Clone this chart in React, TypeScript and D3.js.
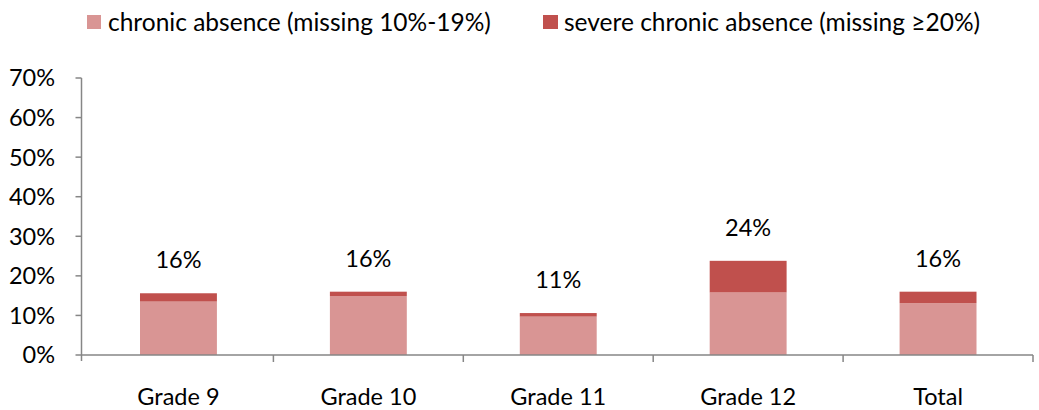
import React from "react";
import * as d3 from "d3";

const categories = ["Grade 9", "Grade 10", "Grade 11", "Grade 12", "Total"];
const chronic = [13.5, 14.9, 9.7, 15.8, 13.1];
const severe = [2.1, 1.1, 0.9, 8.0, 2.9];
const totalLabels = ["16%", "16%", "11%", "24%", "16%"];
const yTicks = [0, 10, 20, 30, 40, 50, 60, 70];
const seriesNames = ["chronic absence (missing 10%-19%)", "severe chronic absence (missing ≥20%)"];

const LIGHT = "#D99594";
const DARK = "#C0504D";
const AXIS = "#868686";
const FONT = "Lato, 'Open Sans', sans-serif";

export default function App() {
  const W = 1039, H = 410;
  const left = 81.5, right = 1033, top = 78, bottom = 355;
  const x = d3.scaleBand<string>().domain(categories).range([left + 2, right]).paddingInner(0).paddingOuter(0);
  const y = d3.scaleLinear().domain([0, 70]).range([bottom, top]);
  const bw = x.bandwidth() * 0.405;

  return (
    <svg width={W} height={H} style={{ position: "absolute", left: 0, top: 0 }} fontFamily={FONT}>
      <rect width={W} height={H} fill="#fff" />
      {/* legend */}
      <rect x={87} y={15} width={14} height={14} fill={LIGHT} />
      <text x={108} y={31} fontSize={24.5} fill="#000">{seriesNames[0]}</text>
      <rect x={543} y={15} width={15} height={14} fill={DARK} />
      <text x={564} y={31} fontSize={24.5} fill="#000">{seriesNames[1]}</text>

      {/* y axis */}
      <line x1={left} x2={left} y1={y(70)} y2={bottom + 6} stroke={AXIS} strokeWidth={1.5} />
      {yTicks.map((t) => (
        <g key={t}>
          <line x1={left - 6} x2={left} y1={y(t)} y2={y(t)} stroke={AXIS} strokeWidth={1.5} />
          <text x={55} y={y(t)} dy="0.36em" textAnchor="end" fontSize={23.5} fill="#000">{t}%</text>
        </g>
      ))}

      {/* bars */}
      {categories.map((c, i) => {
        const cx = (x(c) as number) + x.bandwidth() / 2;
        const tot = chronic[i] + severe[i];
        return (
          <g key={c}>
            <rect x={cx - bw / 2} y={y(chronic[i])} width={bw} height={y(0) - y(chronic[i])} fill={LIGHT} />
            <rect x={cx - bw / 2} y={y(tot)} width={bw} height={y(chronic[i]) - y(tot)} fill={DARK} />
            <text x={cx} y={y(tot) - 25} textAnchor="middle" fontSize={23.5} fill="#000">{totalLabels[i]}</text>
            <text x={cx} y={405} textAnchor="middle" fontSize={23.5} fill="#000">{c}</text>
          </g>
        );
      })}

      {/* x axis */}
      <line x1={left} x2={right} y1={bottom} y2={bottom} stroke={AXIS} strokeWidth={1.5} />
      {categories.slice(1).map((c) => (
        <line key={c} x1={x(c) as number} x2={x(c) as number} y1={bottom} y2={bottom + 7} stroke={AXIS} strokeWidth={1.5} />
      ))}
      <line x1={right} x2={right} y1={bottom} y2={bottom + 7} stroke={AXIS} strokeWidth={1.5} />
    </svg>
  );
}
